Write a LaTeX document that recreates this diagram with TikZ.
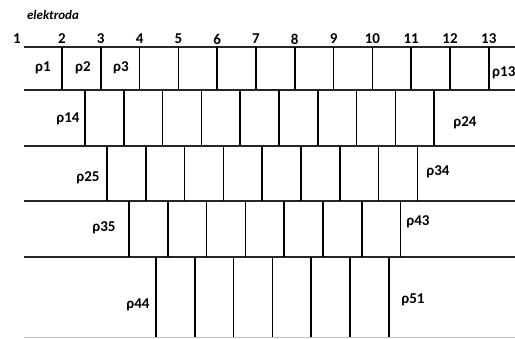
\documentclass[tikz,border=0pt]{standalone}
\usepackage{fontspec}
\setmainfont{Carlito}
\usetikzlibrary{positioning}

\begin{document}
\begin{tikzpicture}[
  x=1pt, y=-1pt,
  layer/.style={line width=1.3pt, draw=black!85},
  wall/.style={line width=1.6pt, draw=black},
  num/.style={font=\fontsize{15}{17}\selectfont\bfseries, inner sep=0pt},
  rho/.style={font=\fontsize{15}{17}\selectfont\bfseries, inner sep=0pt}
]
\useasboundingbox (0,0) rectangle (515,338);

% electrode label and numbers
\node[font=\fontsize{13}{15}\selectfont\bfseries\itshape] (elek) at (53,15) {elektroda};
\node[num] (n1) at (17,39) {1};
\foreach \i in {2,...,13}
  \node[num] (n\i) at ({62+(\i-2)*38.8},39) {\i};

% layer boundaries
\foreach \y in {47,90,146,201,257}
  \draw[layer] (24,\y) -- (515,\y);
\draw[line width=0.8pt, draw=black!25] (24,337) -- (515,337);

% vertical walls: top, bottom, first x, count
\foreach \ya/\yb/\xa/\n in {47/90/62/12, 90/146/85/10, 146/201/107/9, 201/257/129/8, 257/337/156/7}
  \foreach \k in {1,...,\n}
    \draw[wall] ({\xa+(\k-1)*38.8},\ya) -- ({\xa+(\k-1)*38.8},\yb);

% resistivities
\node[rho] (r1) at (43,68) {ρ1};
\node[rho] (r2) at (83,68) {ρ2};
\node[rho] (r3) at (121,68) {ρ3};
\node[rho, anchor=west] (r13) at (492,73) {ρ13};
\node[rho] (r14) at (68,119) {ρ14};
\node[rho] (r24) at (465,123) {ρ24};
\node[rho] (r25) at (88,178) {ρ25};
\node[rho] (r34) at (438,172) {ρ34};
\node[rho] (r35) at (104,228) {ρ35};
\node[rho] (r43) at (418,222) {ρ43};
\node[rho] (r44) at (138,305) {ρ44};
\node[rho] (r51) at (413,300) {ρ51};
\end{tikzpicture}
\end{document}
